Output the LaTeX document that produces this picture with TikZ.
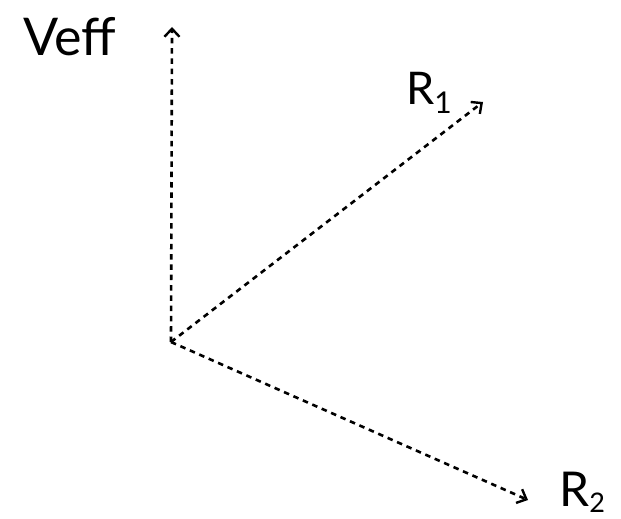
\documentclass[tikz,border=0pt]{standalone}
\usepackage{fontspec}
\setmainfont{Lato}
\usetikzlibrary{arrows.meta}
\begin{document}
\begin{tikzpicture}[x=1pt,y=-1pt,
  vec/.style={line width=2.6pt, dash pattern=on 5.5pt off 4.8pt, -{Straight Barb[length=8pt,width=15pt,line width=2.4pt]}},
  lab/.style={anchor=base west, inner sep=0pt}]
\useasboundingbox (0,0) rectangle (621,519);
\coordinate (O) at (171,342);
\coordinate (V) at (172,27);
\coordinate (A) at (483,102);
\coordinate (B) at (528,500);
\draw[vec] (O) -- (V);
\draw[vec] (O) -- (A);
\draw[vec] (O) -- (B);
\node[lab, font=\fontsize{52}{56}\selectfont] (lv) at (23,56) {Veff};
\node[lab, font=\fontsize{45}{48}\selectfont] (l1) at (406,104) {R\raisebox{-9pt}{\fontsize{30}{32}\selectfont 1}};
\node[lab, font=\fontsize{48}{52}\selectfont] (l2) at (559,506) {R\raisebox{-6pt}{\fontsize{27}{29}\selectfont 2}};
\end{tikzpicture}
\end{document}
